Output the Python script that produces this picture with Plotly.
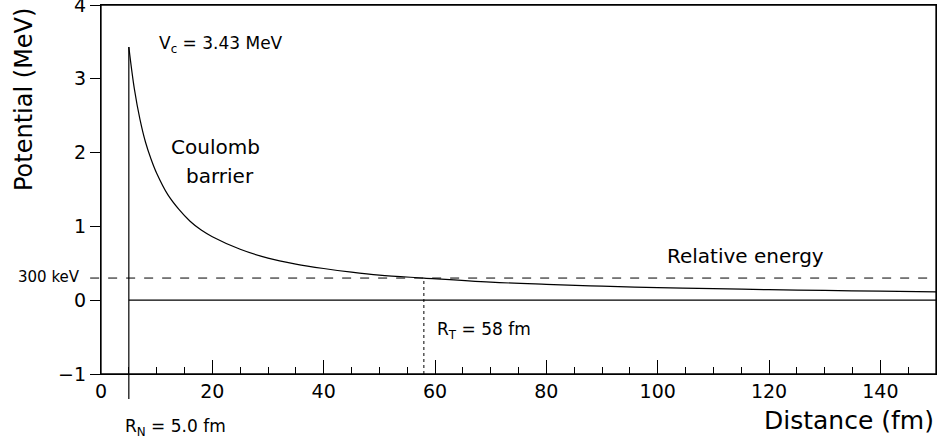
import plotly.graph_objects as go

# Coulomb barrier curve (distance in fm, potential in MeV)
r_fm = [5, 6, 7, 8, 9, 10, 12, 14, 16, 18, 20, 25, 30, 35, 40, 45, 50, 58, 70, 80,
        90, 100, 110, 120, 130, 140, 150]
v_mev = [3.43, 2.86, 2.45, 2.14, 1.91, 1.72, 1.43, 1.23, 1.07, 0.95, 0.86, 0.69, 0.57,
         0.49, 0.43, 0.38, 0.34, 0.30, 0.245, 0.215, 0.19, 0.17, 0.156, 0.143, 0.132,
         0.122, 0.114]

r_nucleus = 5.0
v_coulomb = 3.43
e_relative = 0.30
r_turning = 58
x_max = 150

x_ticks = [0, 20, 40, 60, 80, 100, 120, 140]
y_ticks = [-1, 0, 1, 2, 3, 4]

FONT = "DejaVu Sans"
fig = go.Figure()

LW = 1.2
fig.add_trace(go.Scatter(x=r_fm, y=v_mev, mode="lines", line=dict(color="black", width=LW, shape="spline"),
                         showlegend=False, hoverinfo="skip"))
fig.add_trace(go.Scatter(x=[r_nucleus, x_max], y=[0, 0], mode="lines", line=dict(color="black", width=LW),
                         showlegend=False, hoverinfo="skip"))
fig.add_trace(go.Scatter(x=[r_nucleus, r_nucleus], y=[-1, v_coulomb], mode="lines",
                         line=dict(color="black", width=LW), showlegend=False, hoverinfo="skip"))
fig.add_trace(go.Scatter(x=[r_turning, r_turning], y=[-1, e_relative], mode="lines",
                         line=dict(color="black", width=1, dash="dot"), showlegend=False, hoverinfo="skip"))

# dashed relative energy line (extends slightly left of axis)
fig.add_shape(type="line", xref="paper", yref="y", x0=-0.013, x1=1, y0=e_relative, y1=e_relative,
              line=dict(color="black", width=1, dash="dash"))
# R_N marker extension below the axis
fig.add_shape(type="line", xref="x", yref="paper", x0=r_nucleus, x1=r_nucleus, y0=-0.068, y1=0,
              line=dict(color="black", width=LW))
# frame
fig.add_shape(type="rect", xref="paper", yref="paper", x0=0, x1=1, y0=0, y1=1,
              line=dict(color="black", width=1.3), fillcolor="rgba(0,0,0,0)")

anns = [
    dict(x=157, y=44, text="V<sub>c</sub> = 3.43 MeV", xanchor="left", size=17),
    dict(x=215, y=147, text="Coulomb", xanchor="center", size=20),
    dict(x=220, y=176, text="barrier", xanchor="center", size=20),
    dict(x=745, y=256, text="Relative energy", xanchor="center", size=20),
    dict(x=435, y=330, text="R<sub>T</sub> = 58 fm", xanchor="left", size=17),
    dict(x=123, y=427, text="R<sub>N</sub> = 5.0 fm", xanchor="left", size=17),
    dict(x=82, y=277, text="300 keV", xanchor="right", size=15),
    dict(x=936, y=420, text="Distance (fm)", xanchor="right", size=25),
]

L, R, T, B = 101, 3, 5, 70
pw, ph = 939 - L - R, 444 - T - B

for a in anns:
    fig.add_annotation(x=(a["x"] - L) / pw, y=1 - (a["y"] - T) / ph, xref="paper", yref="paper",
                       xanchor=a["xanchor"], yanchor="middle", text=a["text"], showarrow=False,
                       font=dict(family=FONT, size=a["size"], color="black"))

fig.add_annotation(x=(24 - L) / pw, y=1 - (100 - T) / ph, xref="paper", yref="paper", xanchor="center",
                   yanchor="middle", text="Potential (MeV)", showarrow=False, textangle=-90,
                   font=dict(family=FONT, size=24, color="black"))

fig.update_layout(
    width=939, height=444,
    margin=dict(l=L, r=R, t=T, b=B, autoexpand=False),
    plot_bgcolor="white", paper_bgcolor="white",
    font=dict(family=FONT, color="black"),
    xaxis=dict(range=[0, x_max], tickvals=x_ticks, ticks="inside", ticklen=14, tickwidth=1,
               tickcolor="black", showline=True, linecolor="black", linewidth=1.3, mirror=True,
               showgrid=False, zeroline=False, tickfont=dict(family=FONT, size=19),
               ticklabeloverflow="allow", automargin=False,
               minor=dict(dtick=5, tick0=0, ticks="inside", ticklen=7, tickcolor="black", showgrid=False)),
    yaxis=dict(range=[-1, 4], tickvals=y_ticks, ticks="outside", ticklen=10, tickwidth=1,
               tickcolor="black", showline=True, linecolor="black", linewidth=1.3, mirror=True,
               showgrid=False, zeroline=False, tickfont=dict(family=FONT, size=19),
               ticklabeloverflow="allow", automargin=False),
)

fig.write_html("out.html")
